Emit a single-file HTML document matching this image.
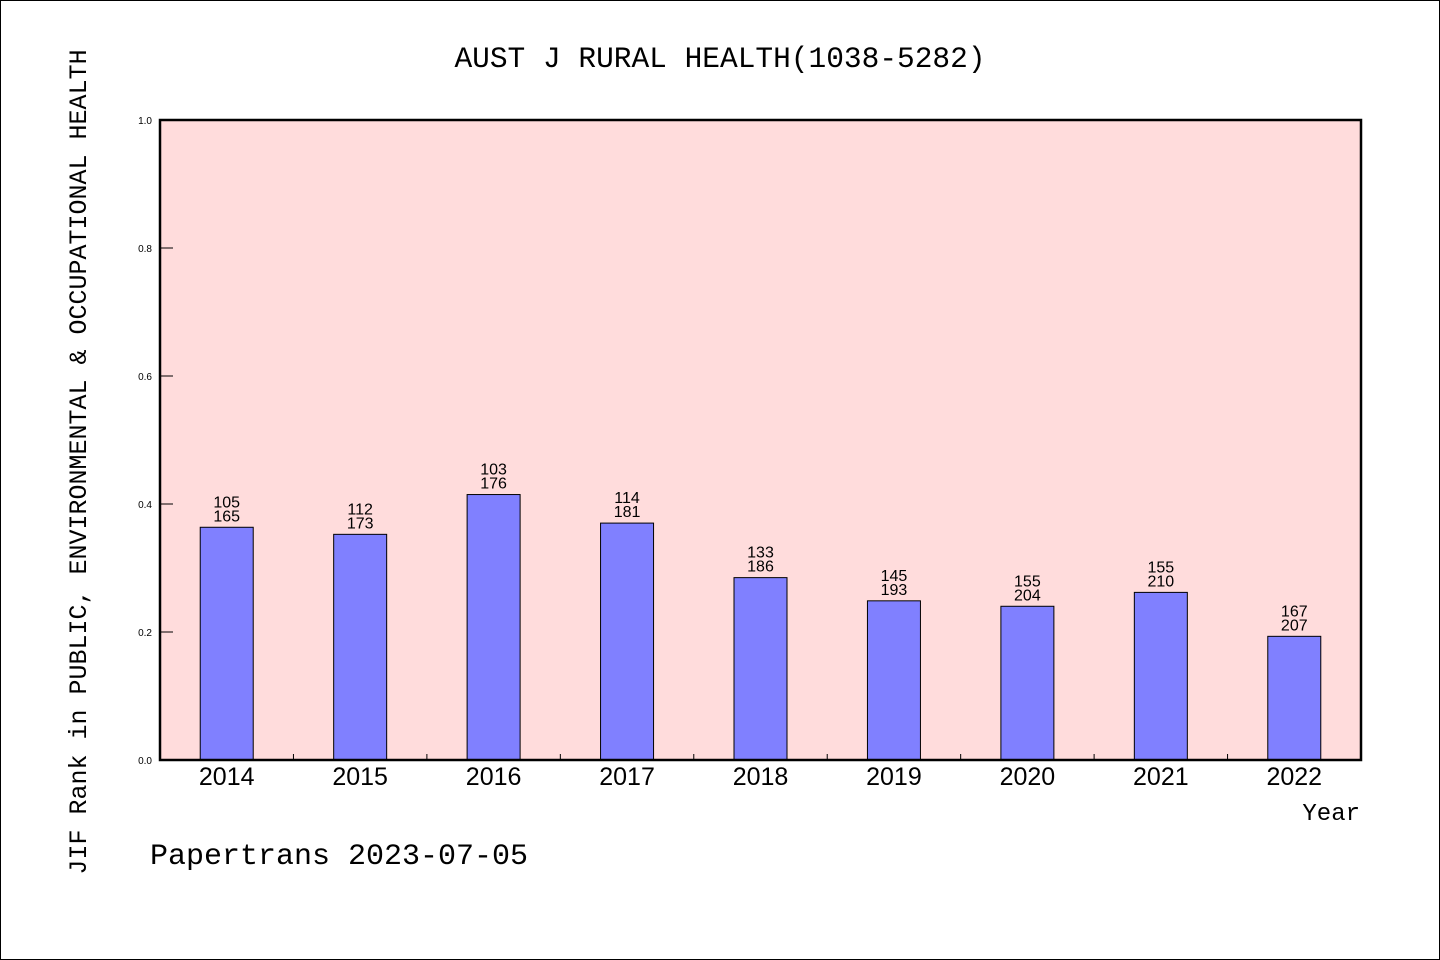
<!DOCTYPE html>
<html><head><meta charset="utf-8"><style>
html,body{margin:0;padding:0;background:#fff}
svg{display:block}
</style></head><body>
<svg width="1440" height="960" xmlns="http://www.w3.org/2000/svg">
<rect x="0.5" y="0.5" width="1439" height="959" fill="#fff" stroke="#000"/>
<text x="720" y="67" text-anchor="middle" font-family="Liberation Mono, monospace" font-size="29.5">AUST J RURAL HEALTH(1038-5282)</text>
<rect x="160" y="120" width="1201" height="640" fill="#ffdcdc"/>
<g id="bars"></g>
<rect x="160" y="120" width="1201" height="640" fill="none" stroke="#000" stroke-width="2.5"/>
<text transform="translate(86,462) rotate(-90)" text-anchor="middle" font-family="Liberation Mono, monospace" font-size="25">JIF Rank in PUBLIC, ENVIRONMENTAL &amp; OCCUPATIONAL HEALTH</text>
<text x="1360" y="820" text-anchor="end" font-family="Liberation Mono, monospace" font-size="24">Year</text>
<text x="150" y="864" font-family="Liberation Mono, monospace" font-size="30">Papertrans 2023-07-05</text>
</svg>
<script>
const years=["2014","2015","2016","2017","2018","2019","2020","2021","2022"];
const ranks=[105,112,103,114,133,145,155,155,167];
const totals=[165,173,176,181,186,193,204,210,207];
const yTicks=[0,0.2,0.4,0.6,0.8,1.0];
const NS="http://www.w3.org/2000/svg";
const x0=160,x1=1361,y0=760,y1=120;
const band=(x1-x0)/years.length;
const xc=i=>x0+band*(i+0.5);
const ys=v=>y0-(y0-y1)*v;
const g=document.getElementById('bars');
function mk(t,a){const e=document.createElementNS(NS,t);for(const k in a)e.setAttribute(k,a[k]);g.appendChild(e);return e;}
yTicks.forEach(v=>{
 const l=mk('line',{x1:x0,x2:x0+13,y1:ys(v),y2:ys(v),stroke:'#000','stroke-width':1});
 
 
 const t=mk('text',{x:x0-8,y:ys(v)+4,'text-anchor':'end','font-family':'Liberation Sans, sans-serif','font-size':10});
 t.textContent=v.toFixed(1);
 
 
});
for(let i=1;i<years.length;i++){
 const l=mk('line',{x1:x0+band*i,x2:x0+band*i,y1:y0,y2:y0-6,stroke:'#000','stroke-width':1});
 
 
}
years.forEach((y,i)=>{
 const v=1-ranks[i]/totals[i];
 const bw=53;
 const r=mk('rect',{x:xc(i)-bw/2,y:ys(v),width:bw,height:y0-ys(v),fill:'#8080ff',stroke:'#000','stroke-width':1});
 
 
 const a=mk('text',{x:xc(i),y:ys(v)-20,'text-anchor':'middle','font-family':'Liberation Sans, sans-serif','font-size':16});
 a.textContent=ranks[i];
 
 
 const b=mk('text',{x:xc(i),y:ys(v)-6,'text-anchor':'middle','font-family':'Liberation Sans, sans-serif','font-size':16});
 b.textContent=totals[i];
 
 
 const t=mk('text',{x:xc(i),y:785,'text-anchor':'middle','font-family':'Liberation Sans, sans-serif','font-size':25});
 t.textContent=y;
 
 
});
</script>
</body></html>
